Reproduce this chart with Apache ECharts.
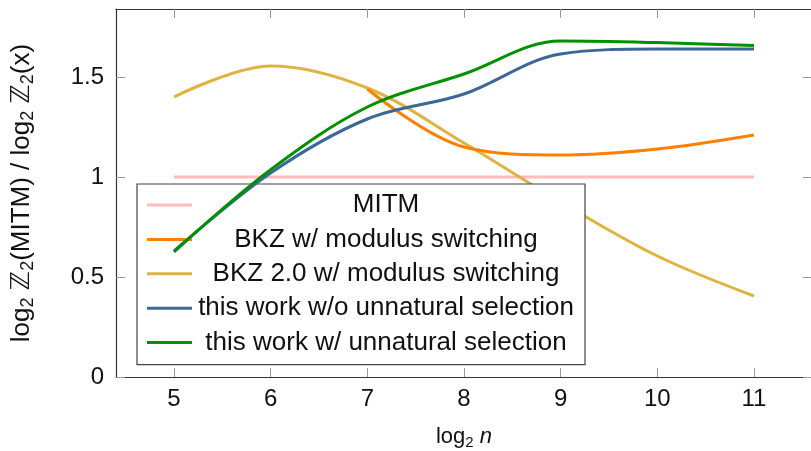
<!DOCTYPE html>
<html>
<head>
<meta charset="utf-8">
<script src="https://cdn.jsdelivr.net/npm/echarts@6/dist/echarts.min.js"></script>
<style>
  html, body { margin: 0; padding: 0; background: #fff; }
  #chart { width: 811px; height: 451px; }
</style>
</head>
<body>
<div id="chart"></div>
<script>
// log2 n
const logN = [5, 6, 7, 8, 9, 10, 11];
const xTicks = [5, 6, 7, 8, 9, 10, 11];
const yTicks = [0, 0.5, 1, 1.5];

const mitm = [1, 1, 1, 1, 1, 1, 1];
const bkzModSwitch = [null, null, 1.44, 1.15, 1.11, 1.14, 1.21];
const bkz2ModSwitch = [1.40, 1.555, 1.445, 1.17, 0.875, 0.605, 0.405];
const thisWorkNoUnnatural = [0.63, 1.02, 1.29, 1.415, 1.615, 1.64, 1.64];
const thisWorkUnnatural = [0.625, 1.037, 1.35, 1.515, 1.68, 1.672, 1.657];

const font = "'Liberation Sans', 'DejaVu Sans', sans-serif";

function pairs(ys) {
  return logN.map((x, i) => [x, ys[i]]).filter(p => p[1] !== null);
}

const chart = echarts.init(document.getElementById("chart"));

const tickStyle = { show: true, inside: true, length: 9, lineStyle: { color: "#9a9a9a", width: 1 } };
const lineAxis = { show: true, onZero: false, lineStyle: { color: "#333", width: 1.2 } };

function mkSeries(name, ys, color, z) {
  return {
    name: name,
    type: "line",
    data: pairs(ys),
    smooth: 0.35,
    symbol: "none",
    z: z,
    lineStyle: { color: color, width: 3 },
    itemStyle: { color: color },
  };
}

chart.setOption({
  animation: false,
  backgroundColor: "#fff",
  grid: { left: 116, right: -1, top: 9, bottom: 74, containLabel: false, outerBoundsMode: "none" },
  legend: {
    orient: "vertical",
    left: 137,
    top: 184,
    padding: [8, 10, 9, 10],
    itemGap: 8.4,
    itemWidth: 45,
    itemHeight: 3,
    icon: "rect",
    borderColor: "#444",
    borderWidth: 1.2,
    backgroundColor: "#fff",
    formatter: "{c|{name}}",
    textStyle: {
      rich: {
        c: { width: 378, align: "center", fontSize: 26, lineHeight: 26, fontFamily: font, color: "#111" },
      },
    },
  },
  xAxis: [
    {
      type: "value",
      position: "bottom",
      min: 4.4,
      max: 11.6,
      axisLine: lineAxis,
      axisTick: Object.assign({ customValues: xTicks }, tickStyle),
      axisLabel: { customValues: xTicks, fontSize: 24, fontFamily: font, color: "#111", margin: 10 },
      splitLine: { show: false },
      name: "log{s|2} {i|n}",
      nameLocation: "middle",
      nameGap: 46,
      nameTextStyle: {
        fontSize: 22,
        fontFamily: font,
        color: "#111",
        lineHeight: 28,
        rich: {
          s: { fontSize: 15, fontFamily: font, color: "#111", padding: [11, 0, 0, 0] },
          i: { fontSize: 22, fontFamily: font, fontStyle: "italic", color: "#111" },
        },
      },
    },
    {
      type: "value",
      position: "top",
      min: 4.4,
      max: 11.6,
      axisLine: lineAxis,
      axisTick: Object.assign({ customValues: xTicks }, tickStyle),
      axisLabel: { show: false },
      splitLine: { show: false },
    },
  ],
  yAxis: [
    {
      type: "value",
      position: "left",
      min: 0,
      max: 1.84,
      axisLine: lineAxis,
      axisTick: Object.assign({ customValues: yTicks }, tickStyle),
      axisLabel: { customValues: yTicks, fontSize: 24, fontFamily: font, color: "#111", margin: 12 },
      splitLine: { show: false },
      name: "log{s|2} ℤ{s|2}(MITM) / log{s|2} ℤ{s|2}(x)",
      nameLocation: "middle",
      nameGap: 80,
      nameTextStyle: {
        fontSize: 26,
        fontFamily: font,
        color: "#111",
        lineHeight: 28,
        rich: {
          s: { fontSize: 18, fontFamily: font, color: "#111", padding: [12, 0, 0, 0] },
        },
      },
    },
    {
      type: "value",
      position: "right",
      min: 0,
      max: 1.84,
      axisLine: lineAxis,
      axisTick: Object.assign({ customValues: yTicks }, tickStyle),
      axisLabel: { show: false },
      splitLine: { show: false },
    },
  ],
  series: [
    mkSeries("MITM", mitm, "#ffbcbc", 2),
    mkSeries("BKZ w/ modulus switching", bkzModSwitch, "#ff8000", 3),
    mkSeries("BKZ 2.0 w/ modulus switching", bkz2ModSwitch, "#e0b341", 2),
    mkSeries("this work w/o unnatural selection", thisWorkNoUnnatural, "#3b6897", 4),
    mkSeries("this work w/ unnatural selection", thisWorkUnnatural, "#009100", 5),
  ],
});
</script>
</body>
</html>
